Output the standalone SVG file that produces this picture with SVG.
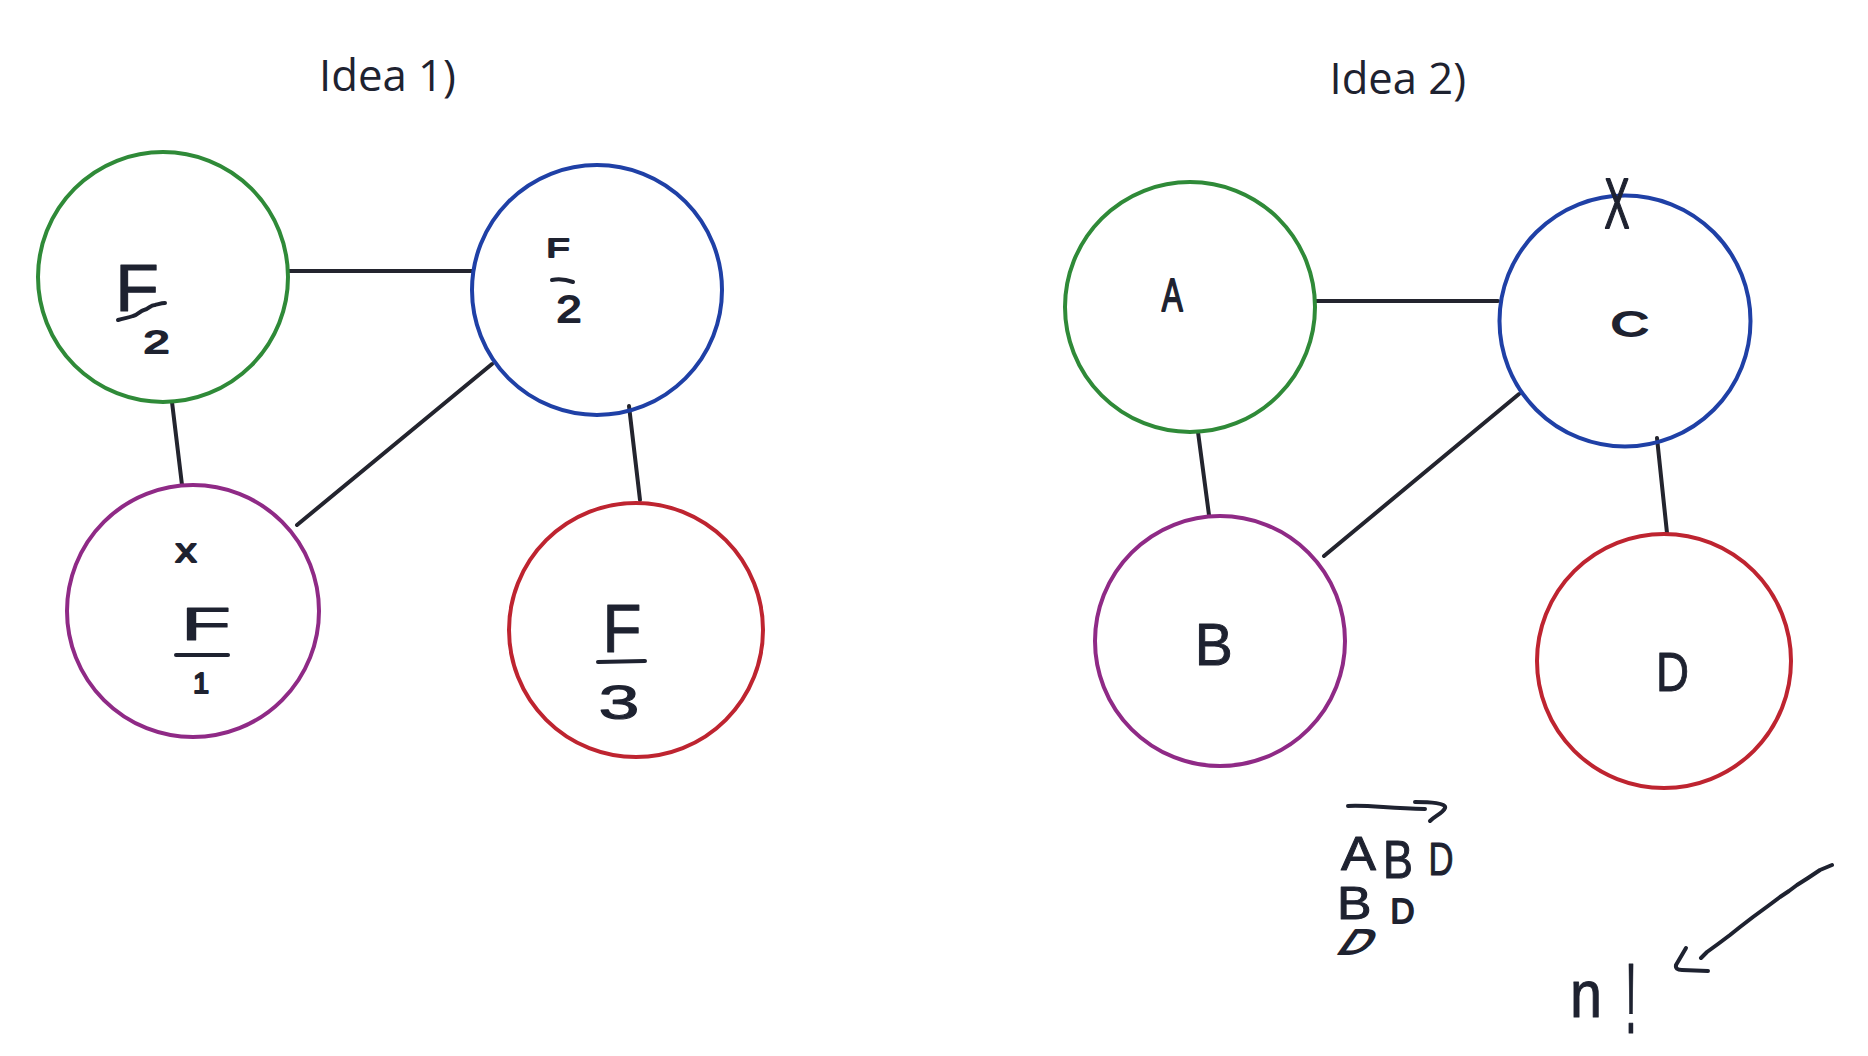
<svg xmlns="http://www.w3.org/2000/svg" width="1868" height="1056" viewBox="0 0 1868 1056">
<style>
.bg{fill:#ffffff}
.node{fill:none;stroke-width:4}
.g{stroke:#2f8a38}.b{stroke:#1f40a6}.p{stroke:#8f2a86}.r{stroke:#be2430}
.edge{stroke:#23242e;stroke-width:4;stroke-linecap:round;fill:none}
.ink{fill:none;stroke:#1e2230;stroke-width:4;stroke-linecap:round;stroke-linejoin:round}
.title{font-family:"Open Sans","Noto Sans","Liberation Sans",sans-serif;fill:#1e2230}
.hw{font-family:"Liberation Sans","DejaVu Sans",sans-serif;fill:#1e2230;stroke:#1e2230;stroke-width:1;stroke-linejoin:round}
.hws{stroke-width:1.8}
</style>
<rect class="bg" x="0" y="0" width="1868" height="1056"/>

<text class="title" x="319" y="91" font-size="43" textLength="137" lengthAdjust="spacingAndGlyphs">Idea 1)</text>
<text class="title" x="1329.5" y="93.5" font-size="43" textLength="136.5" lengthAdjust="spacingAndGlyphs">Idea 2)</text>

<g id="connectors">
  <line class="edge" x1="289" y1="271" x2="472" y2="271"/>
  <line class="edge" x1="172" y1="402" x2="182" y2="485"/>
  <line class="edge" x1="297" y1="525" x2="492" y2="364"/>
  <line class="edge" x1="629" y1="406" x2="640" y2="500"/>
  <line class="edge" x1="1316" y1="301" x2="1498" y2="301"/>
  <line class="edge" x1="1198" y1="432" x2="1209" y2="515"/>
  <line class="edge" x1="1324" y1="556" x2="1519" y2="394"/>
  <line class="edge" x1="1657" y1="438" x2="1667" y2="533"/>
</g>

<g id="idea1-green">
  <circle class="node g" cx="163" cy="277" r="125"/>
  <text class="hw" x="115" y="311" font-size="66" textLength="44" lengthAdjust="spacingAndGlyphs">F</text>
  <path class="ink" d="M118,320 C124,318 128,318 133,316 C138,315 140,311 144,310 C149,309 150,305 155,305 C159,304 162,303 165,303"/>
  <text class="hw hws" x="143.5" y="353" font-size="32" textLength="26" lengthAdjust="spacingAndGlyphs">2</text>
</g>

<g id="idea1-blue">
  <circle class="node b" cx="597" cy="290" r="125"/>
  <text class="hw hws" x="546.5" y="257" font-size="26.5" textLength="23" lengthAdjust="spacingAndGlyphs">F</text>
  <path class="ink" d="M552,280 Q562,278 573,282"/>
  <text class="hw hws" x="556.5" y="322" font-size="37" textLength="25" lengthAdjust="spacingAndGlyphs">2</text>
</g>

<g id="idea1-purple">
  <circle class="node p" cx="193" cy="611" r="126"/>
  <text class="hw hws" x="175.5" y="562" font-size="33" textLength="21" lengthAdjust="spacingAndGlyphs">x</text>
  <text class="hw" x="181" y="640" font-size="46" textLength="50" lengthAdjust="spacingAndGlyphs">F</text>
  <path class="ink" d="M176,655 L228,655"/>
  <text class="hw hws" x="201" y="693" font-size="29" text-anchor="middle">1</text>
</g>

<g id="idea1-red">
  <circle class="node r" cx="636" cy="630" r="127"/>
  <text class="hw" x="602.5" y="652" font-size="68" textLength="39" lengthAdjust="spacingAndGlyphs">F</text>
  <path class="ink" d="M598,662 L645,661"/>
  <text class="hw" x="598.5" y="719" font-size="47.5" textLength="41" lengthAdjust="spacingAndGlyphs">3</text>
</g>

<g id="idea2-A">
  <circle class="node g" cx="1190" cy="307" r="125"/>
  <text class="hw hws" x="1161.7" y="311" font-size="46" textLength="21" lengthAdjust="spacingAndGlyphs">A</text>
</g>

<g id="idea2-C">
  <circle class="node b" cx="1625" cy="321" r="125.5"/>
  <text class="hw hws" x="1610.7" y="336" font-size="35" textLength="38" lengthAdjust="spacingAndGlyphs">C</text>
  <text class="hw hws" x="1604.5" y="228" font-size="70" textLength="25" lengthAdjust="spacingAndGlyphs">X</text>
</g>

<g id="idea2-B">
  <circle class="node p" cx="1220" cy="641" r="125"/>
  <text class="hw" x="1194.7" y="665" font-size="60" textLength="38" lengthAdjust="spacingAndGlyphs">B</text>
</g>

<g id="idea2-D">
  <circle class="node r" cx="1664" cy="661" r="127"/>
  <text class="hw" x="1656" y="691" font-size="56" textLength="33" lengthAdjust="spacingAndGlyphs">D</text>
</g>

<g id="notes">
  <path class="ink" d="M1348,806 C1370,805 1385,808 1425,809"/>
  <path class="ink" d="M1415,802 C1430,802 1447,803 1445,808 C1443,813 1435,816 1430,821"/>
  <text class="hw" x="1341" y="870" font-size="49" textLength="35" lengthAdjust="spacingAndGlyphs">A</text>
  <text class="hw" x="1383" y="878" font-size="53" textLength="30" lengthAdjust="spacingAndGlyphs">B</text>
  <text class="hw" x="1428.5" y="875" font-size="46" textLength="25" lengthAdjust="spacingAndGlyphs">D</text>
  <text class="hw" x="1337" y="919" font-size="46" textLength="34.5" lengthAdjust="spacingAndGlyphs">B</text>
  <text class="hw hws" x="1390.5" y="923" font-size="35" textLength="24" lengthAdjust="spacingAndGlyphs">D</text>
  <text class="hw hws" transform="translate(1335,954) skewX(-35)" x="0" y="0" font-size="35" textLength="30" lengthAdjust="spacingAndGlyphs">D</text>
  <text class="hw" x="1570" y="1017" font-size="66" textLength="32" lengthAdjust="spacingAndGlyphs">n</text>
  <text class="hw" x="1625" y="1033" font-size="100" textLength="12" lengthAdjust="spacingAndGlyphs">!</text>
  <path class="ink" d="M1832,865 L1820,870 L1808,878 L1797,885 L1789,891 L1780,897 L1768,906 L1753,917 L1740,927 L1730,935 L1718,944 L1707,952 L1701,958"/>
  <path class="ink" d="M1686,948 L1676,965 Q1675,970 1682,970 L1708,971"/>
</g>
</svg>
